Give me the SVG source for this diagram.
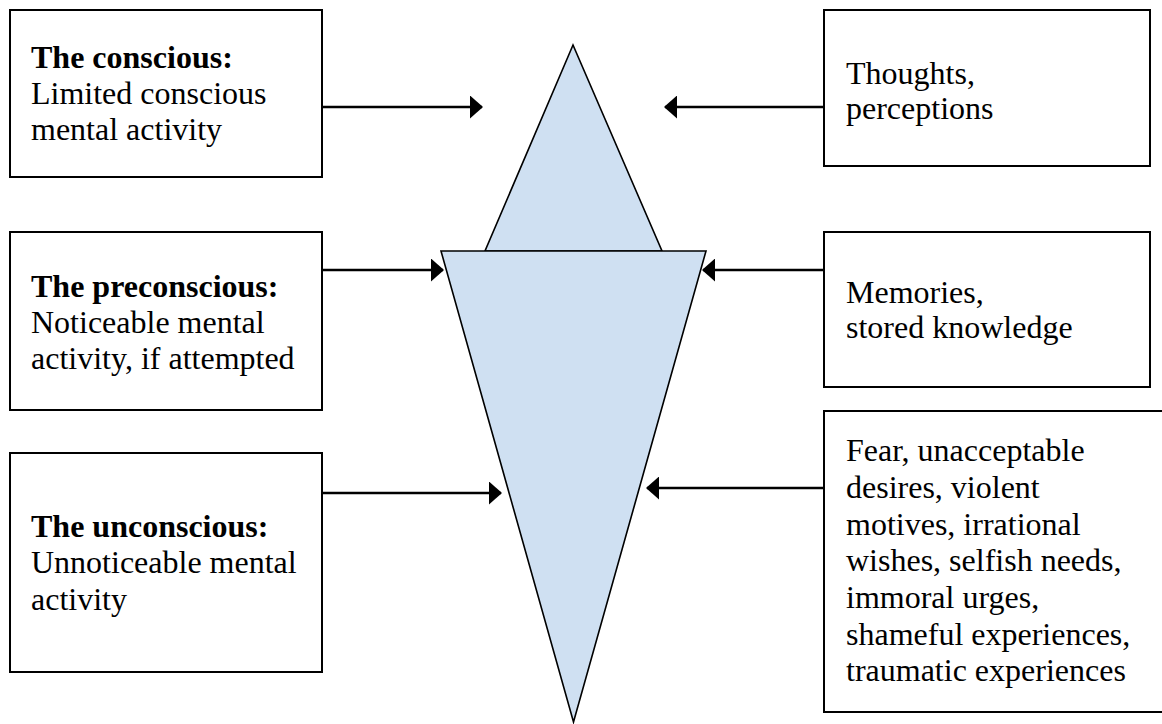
<svg xmlns="http://www.w3.org/2000/svg" width="1162" height="724" viewBox="0 0 1162 724">
<defs>
<style>
.box{fill:#fff;stroke:#000;stroke-width:2}
.t{font-family:"Liberation Serif","Times New Roman",serif;font-size:32px;fill:#000}
.b{font-weight:bold}
.shape{fill:#cfe0f2;stroke:#000;stroke-width:1.6;stroke-linejoin:miter}
.conn{stroke:#000;stroke-width:2.6;fill:none}
</style>
<marker id="ah" viewBox="0 0 13 23" refX="12" refY="11.5" markerWidth="13" markerHeight="23" markerUnits="userSpaceOnUse" orient="auto">
<path d="M0,0 L13,11.5 L0,23 Z" fill="#000"/>
</marker>
</defs>
<rect width="1162" height="724" fill="#fff"/>

<g id="iceberg">
<polygon class="shape" points="573,45 485,251 662,251"/>
<polygon class="shape" points="441,251 706,251 573.5,722"/>
</g>

<g id="conscious">
<rect class="box" x="10" y="10" width="312" height="167"/>
<text class="t" x="31" y="68"><tspan class="b">The conscious:</tspan><tspan x="31" y="104">Limited conscious</tspan><tspan x="31" y="140">mental activity</tspan></text>
</g>

<g id="preconscious">
<rect class="box" x="10" y="232" width="312" height="178"/>
<text class="t" x="31" y="297"><tspan class="b">The preconscious:</tspan><tspan x="31" y="333">Noticeable mental</tspan><tspan x="31" y="369">activity, if attempted</tspan></text>
</g>

<g id="unconscious">
<rect class="box" x="10" y="453" width="312" height="219"/>
<text class="t" x="31" y="537"><tspan class="b">The unconscious:</tspan><tspan x="31" y="573">Unnoticeable mental</tspan><tspan x="31" y="610">activity</tspan></text>
</g>

<g id="thoughts">
<rect class="box" x="824" y="10" width="326" height="156"/>
<text class="t" x="846" y="84">Thoughts,<tspan x="846" y="119">perceptions</tspan></text>
</g>

<g id="memories">
<rect class="box" x="824" y="232" width="326" height="155"/>
<text class="t" x="846" y="303">Memories,<tspan x="846" y="338">stored knowledge</tspan></text>
</g>

<g id="fears">
<rect class="box" x="824" y="411" width="360" height="301"/>
<text class="t" x="846" y="461">Fear, unacceptable<tspan x="846" y="498">desires, violent</tspan><tspan x="846" y="535">motives, irrational</tspan><tspan x="846" y="571">wishes, selfish needs,</tspan><tspan x="846" y="608">immoral urges,</tspan><tspan x="846" y="645">shameful experiences,</tspan><tspan x="846" y="681">traumatic experiences</tspan></text>
</g>

<g id="connectors">
<path class="conn" d="M322,107 L482,107" marker-end="url(#ah)"/>
<path class="conn" d="M824,107 L665,107" marker-end="url(#ah)"/>
<path class="conn" d="M322,270 L443,270" marker-end="url(#ah)"/>
<path class="conn" d="M824,270 L703,270" marker-end="url(#ah)"/>
<path class="conn" d="M322,493 L501,493" marker-end="url(#ah)"/>
<path class="conn" d="M824,488 L647,488" marker-end="url(#ah)"/>
</g>
</svg>
